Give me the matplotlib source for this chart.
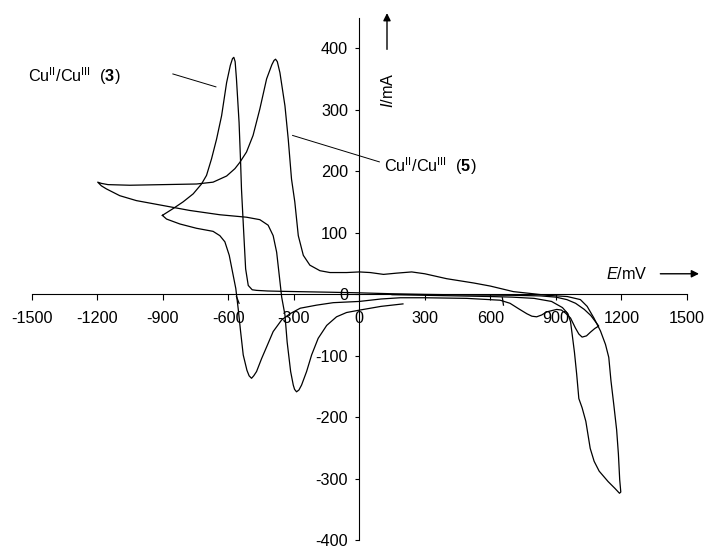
import matplotlib
matplotlib.use("Agg")
import matplotlib.pyplot as plt

plt.rcParams['font.family'] = ['Liberation Sans', 'DejaVu Sans']
plt.rcParams['mathtext.fontset'] = 'custom'
plt.rcParams['mathtext.rm'] = 'Liberation Sans'
plt.rcParams['mathtext.it'] = 'Liberation Sans:italic'
plt.rcParams['mathtext.bf'] = 'Liberation Sans:bold'

# ---- data (E in mV, I in mA) ----
# compound 3: closed loop, vertex at -900 mV and ~1100 mV
e3 = [-901, -852, -806, -760, -722, -699, -676, -653, -630, -607, -590, -580, -574,
      -568, -562, -550, -543, -539, -536, -528, -520, -508, -490, -470, -420, -363,
      -211, -134, 0, 150, 300, 500, 700, 830, 900, 950, 990, 1030, 1060, 1096,
      1078, 1058, 1040, 1020, 1005, 989, 967, 944, 925, 904, 880, 858, 835, 812,
      790, 767, 730, 690, 645, 492, 300, 188, 100, 0, -119, -195, -270, -317,
      -355, -394, -424, -447, -470, -483, -493, -504, -514, -531, -543, -554,
      -565, -580, -595, -615, -638, -669, -745, -821, -882, -901]
i3 = [128, 139, 150, 163, 179, 193, 220, 252, 290, 344, 372, 383, 385,
      378, 350, 279, 214, 171, 150, 95, 41, 14, 7, 6, 5, 4.5,
      3.5, 3, 2, 0.5, -0.5, -1.5, -2, -3, -5, -9, -15, -25, -35, -52,
      -56, -62, -68, -70, -65, -55, -39, -31, -26, -25, -27, -29, -34, -37,
      -36, -32, -24, -15, -10, -7, -6, -6, -8, -12, -14, -18, -23, -32,
      -42, -61, -86, -105, -126, -133, -137, -133, -124, -99, -61, -24,
      9, 36, 63, 85, 95, 102, 107, 114, 122, 128]

# compound 5: starts at +200 mV, vertices at -1200 mV and +1200 mV
e5 = [200, 100, 3, -58, -104, -149, -188, -218, -241, -264, -276, -287, -296, -302,
      -314, -330, -340, -355, -366, -378, -394, -417, -455, -516, -638, -776, -898,
      -1020, -1096, -1157, -1180, -1197,
      -1180, -1150, -1050, -898, -745, -669, -607, -569, -547, -516, -486, -455,
      -424, -400, -390, -383, -375, -363, -340, -325, -310, -295, -279, -256, -226,
      -180, -134, -58, 0, 50, 111, 170, 240, 300, 400, 524, 600, 705, 783, 858,
      952, 1012, 1043, 1074, 1104, 1127, 1142, 1152, 1165, 1178, 1186, 1192, 1197,
      1191, 1170, 1139, 1098, 1075, 1057, 1037, 1020, 1005, 995, 985, 975, 967,
      955, 930, 880, 800, 700, 600, 450, 300, 150]
i5 = [-16, -20, -26, -30, -37, -51, -72, -99, -126, -148, -156, -159, -155, -148,
      -126, -78, -34, -5, 30, 68, 95, 112, 121, 125, 129, 136, 144,
      152, 160, 171, 176, 182,
      180, 178, 177, 178, 179, 182, 192, 204, 214, 231, 258, 301,
      350, 373, 380, 382, 378, 360, 306, 252, 187, 150, 95, 63, 47,
      38, 35, 35, 36, 35, 32, 34, 36, 33, 25, 18, 13, 4, 1, -2,
      -4, -9, -20, -39, -60, -82, -103, -141, -180, -221, -260, -302, -322,
      -324, -316, -305, -288, -272, -251, -207, -185, -170, -130, -95, -67, -45,
      -32, -22, -12, -7, -5, -4, -3, -2, -1]

# small start markers
mark1_e = [-562, -550]
mark1_i = [-4, -15]
mark2_e = [655, 660]
mark2_i = [-6, -18]

xticks = [-1500, -1200, -900, -600, -300, 0, 300, 600, 900, 1200, 1500]
yticks = [-400, -300, -200, -100, 0, 100, 200, 300, 400]

fig = plt.figure(figsize=(7.06, 5.48), dpi=100)
ax = fig.add_axes([31.5 / 706, 8.0 / 548, (687 - 31.5) / 706, (540.0 - 18) / 548])
ax.set_xlim(-1500, 1500)
ax.set_ylim(-400, 449)

lw = 0.9
ax.plot(e3, i3, color='black', lw=lw)
ax.plot(e5, i5, color='black', lw=lw)
ax.plot(mark1_e, mark1_i, color='black', lw=lw)
ax.plot(mark2_e, mark2_i, color='black', lw=lw)

for s in ['top', 'right']:
    ax.spines[s].set_visible(False)
ax.spines['left'].set_position(('data', 0))
ax.spines['bottom'].set_position(('data', 0))
ax.spines['left'].set_linewidth(0.8)
ax.spines['bottom'].set_linewidth(0.8)
ax.set_xticks(xticks)
ax.set_yticks(yticks)
ax.set_xticklabels([str(v) for v in xticks])
ax.set_yticklabels([str(v) for v in yticks])
ax.tick_params(axis='x', direction='out', length=4, width=0.8, pad=8, labelsize=11.7)
ax.tick_params(axis='y', direction='out', length=3, width=0.8, pad=5, labelsize=11.7)
ax.patch.set_visible(False)

fs = 11.7
ax.text(-1518, 354, r'Cu$^{\mathrm{II}}$/Cu$^{\mathrm{III}}$  ($\mathbf{3}$)', fontsize=fs,
        ha='left', va='center', clip_on=False)
ax.plot([-853, -656], [358, 337], color='black', lw=0.7)
ax.text(113, 208, r'Cu$^{\mathrm{II}}$/Cu$^{\mathrm{III}}$  ($\mathbf{5}$)', fontsize=fs,
        ha='left', va='center')
ax.plot([-305, 92], [258, 215], color='black', lw=0.7)

ax.text(131, 331, r'$\mathit{I}$/mA', fontsize=fs, rotation=90, ha='center', va='center')
ax.annotate('', xy=(127, 457), xytext=(127, 398),
            arrowprops=dict(arrowstyle='-|>', color='black', lw=1.0, mutation_scale=11,
                            shrinkA=0, shrinkB=0), annotation_clip=False)
ax.text(1224, 33, r'$\mathit{E}$/mV', fontsize=fs, ha='center', va='center')
ax.annotate('', xy=(1555, 33), xytext=(1378, 33),
            arrowprops=dict(arrowstyle='-|>', color='black', lw=1.0, mutation_scale=11,
                            shrinkA=0, shrinkB=0), annotation_clip=False)

fig.savefig('out.png', dpi=100)
